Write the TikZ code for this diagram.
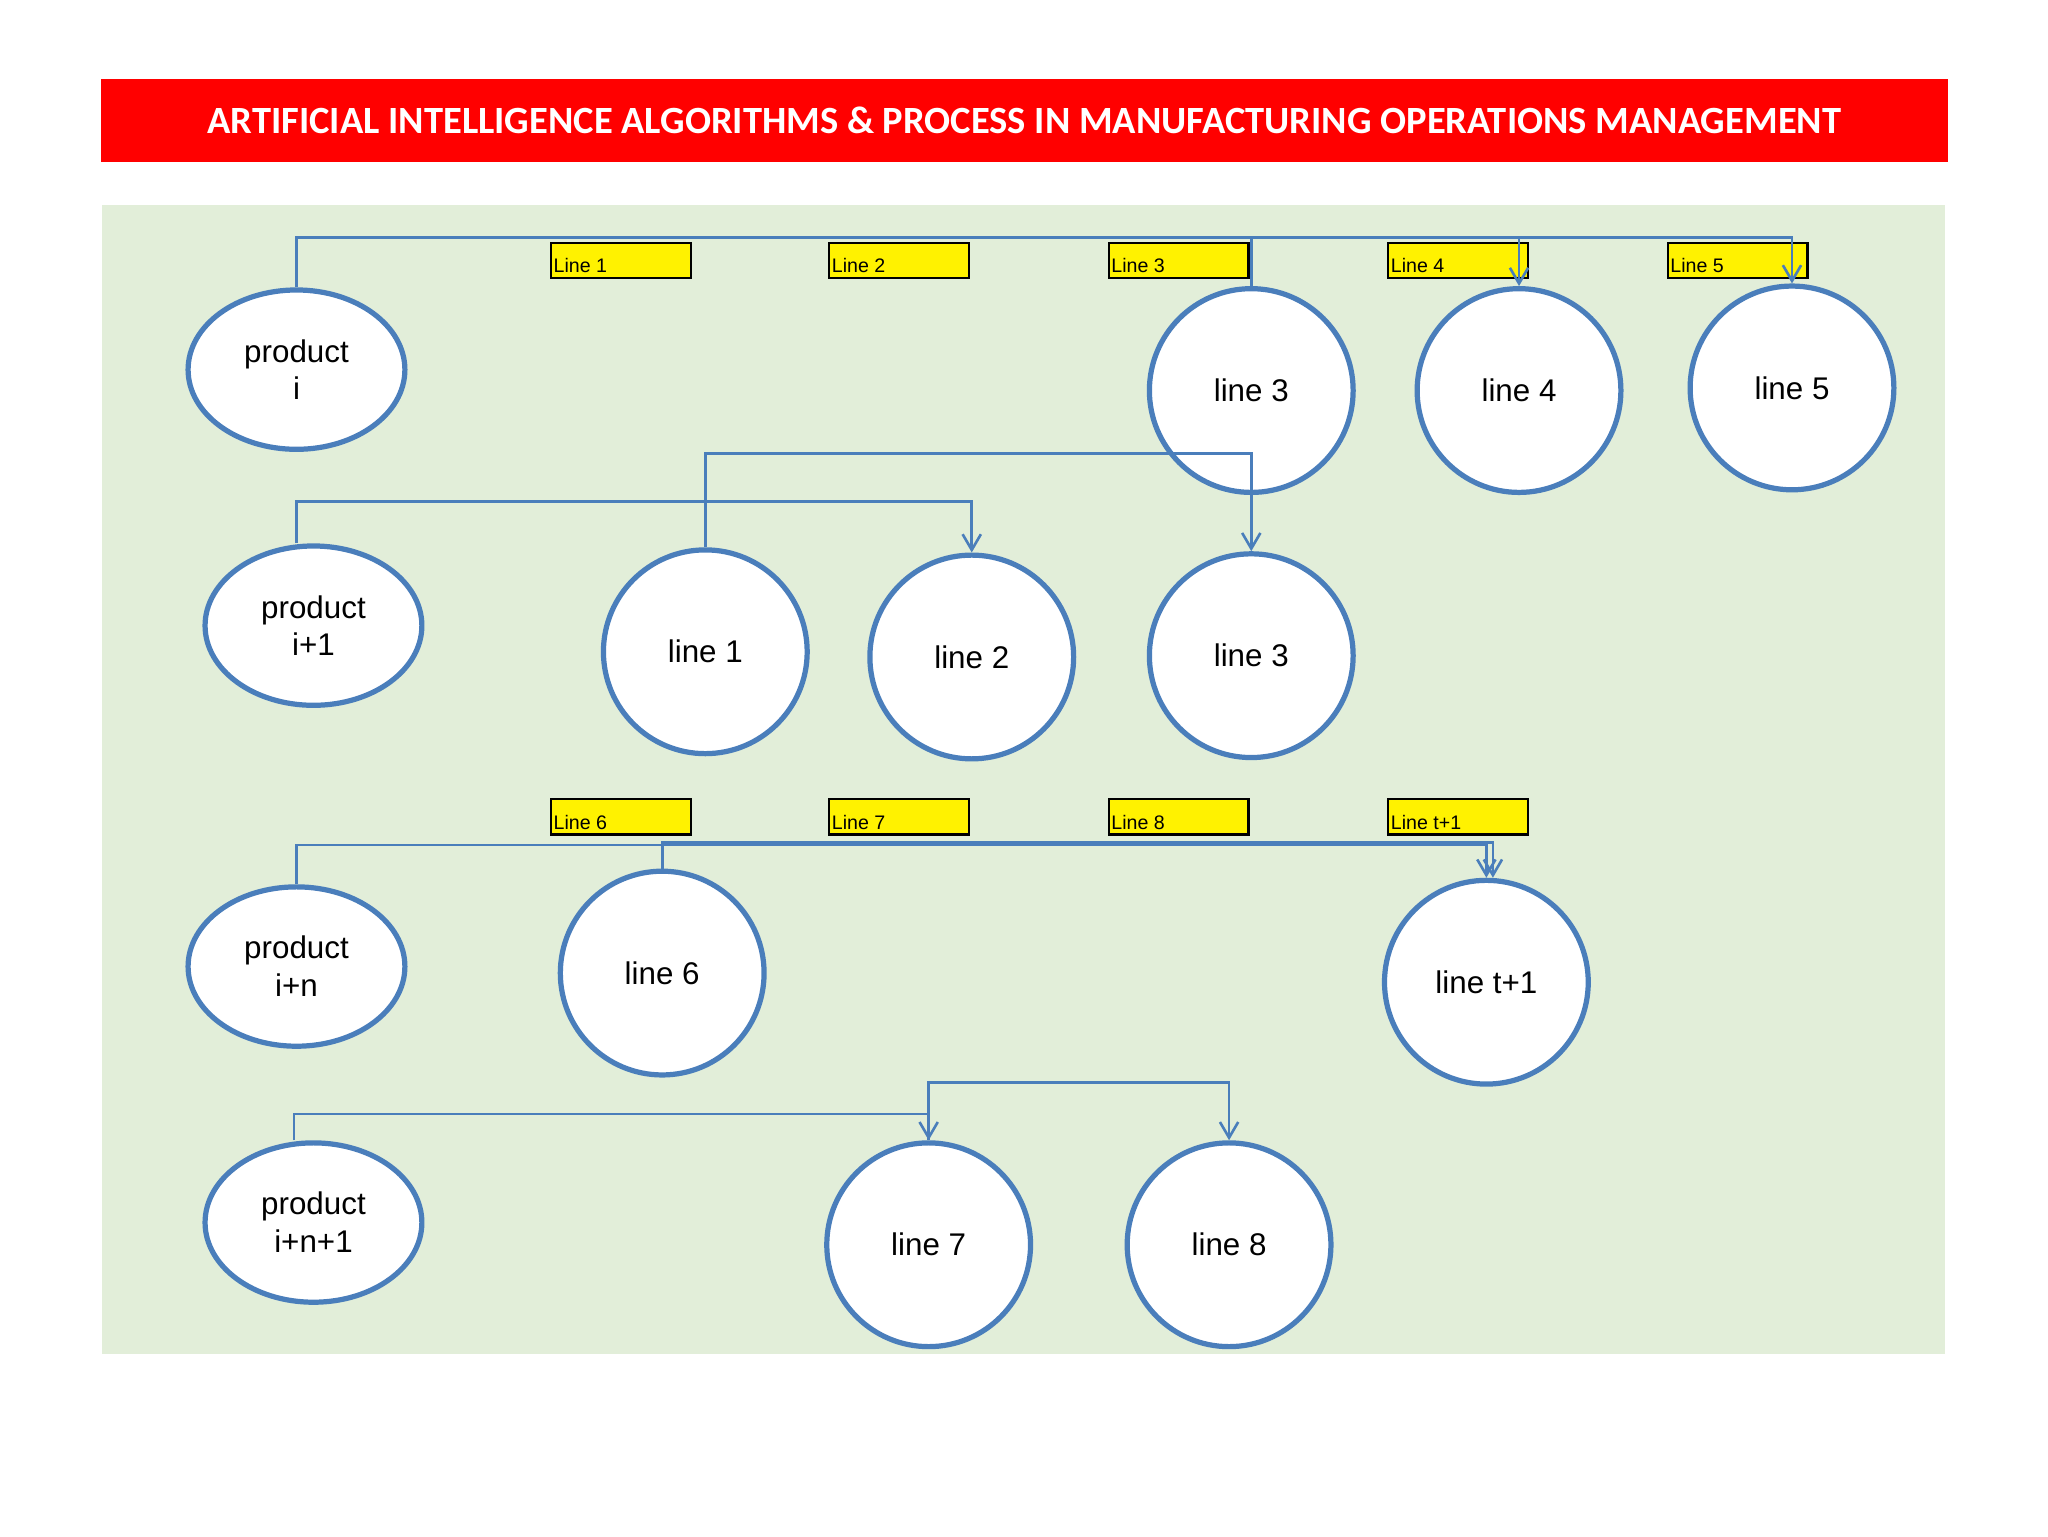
\documentclass[tikz,border=0pt]{standalone}
\usepackage{fontspec}
\setmainfont{Liberation Sans}
\newfontfamily\titlefont{Carlito}
\usetikzlibrary{arrows.meta,shapes.geometric}
\definecolor{edge}{HTML}{4A7EBB}
\definecolor{bgg}{HTML}{E2EED9}
\tikzset{
  x=1pt,y=-1pt,
  prod/.style={ellipse,draw=edge,line width=4pt,fill=white,minimum width=166pt,minimum height=122pt,align=center,font=\fontsize{24}{29}\selectfont,inner sep=0pt},
  ln/.style={circle,draw=edge,line width=4pt,fill=white,minimum size=156pt,font=\fontsize{24}{29}\selectfont,inner sep=0pt},
  tag/.style={draw=black,line width=1.8pt,fill=yellow,minimum width=107pt,minimum height=27pt,inner sep=1pt,anchor=north west,font=\fontsize{15}{15}\selectfont,text depth=0pt},
  conn/.style={draw=edge,line width=2pt},
  arr/.style={conn,-{Straight Barb[length=12pt,width=14pt,line width=2pt]}}
}
\begin{document}
\begin{tikzpicture}
\useasboundingbox (0,0) rectangle (1568,1176);
\fill[white] (0,0) rectangle (1568,1176);
\node[fill=red,minimum width=1414pt,minimum height=64pt,anchor=north west,text=white,font=\titlefont\bfseries\fontsize{29.5}{32}\selectfont] (title) at (77,60) {ARTIFICIAL INTELLIGENCE ALGORITHMS \& PROCESS IN MANUFACTURING OPERATIONS MANAGEMENT};
\fill[bgg] (78,157) rectangle (1489,1037);
\coordinate (bus1) at (0,182);
\coordinate (bus2) at (0,347);
\coordinate (bus3) at (0,384);
\coordinate (bus4) at (0,647);
\coordinate (bus5) at (0,645);
\coordinate (bus6) at (0,853);
\coordinate (bus7) at (0,829);
% tags
\foreach \x/\t/\n in {421/Line 1/ta,634/Line 2/tb,848/Line 3/tc,1062/Line 4/td,1276/Line 5/te}
  \node[tag] (\n) at (\x,185) {\makebox[103pt][l]{\raisebox{-8pt}{\t}}};
\foreach \x/\t/\n in {421/Line 6/tf,634/Line 7/tg,848/Line 8/th,1062/Line t+1/ti}
  \node[tag] (\n) at (\x,611) {\makebox[103pt][l]{\raisebox{-8pt}{\t}}};
% nodes
\node[prod] (pi) at (227,283) {product\\i};
\node[ln] (l3a) at (958,299) {line 3};
\node[ln] (l4) at (1163,299) {line 4};
\node[ln] (l5) at (1372,297) {line 5};
\node[prod] (pi1) at (240,479) {product\\i+1};
\node[ln] (l1) at (540,499) {line 1};
\node[ln] (l2) at (744,503) {line 2};
\node[ln] (l3b) at (958,502) {line 3};
\node[prod] (pin) at (227,740) {product\\i+n};
\node[ln] (l6) at (507,745) {line 6};
\node[ln] (lt) at (1138,752) {line t+1};
\node[prod] (pin1) at (240,936) {product\\i+n+1};
\node[ln] (l7) at (711,953) {line 7};
\node[ln] (l8) at (941,953) {line 8};
% connectors
\draw[arr] (pi.north) -- (pi.north |- bus1) -| (l5.north);
\draw[arr] (pi.north |- bus1) -| (l4.north);
\draw[conn] (l3a.north) -- (l3a.north |- bus1);
\draw[arr] (l1.north) -- (l1.north |- bus2) -| (l3b.north);
\draw[arr] ([xshift=-13pt]pi1.north) -- ([xshift=-13pt]pi1.north |- bus3) -| (l2.north);
\draw[arr] (pin.north) -- (pin.north |- bus4) -| (lt.north);
\draw[arr] (l6.north) -- (l6.north |- bus5) -| ([xshift=5pt]lt.north);
\draw[arr] ([xshift=-15pt]pin1.north) -- ([xshift=-15pt]pin1.north |- bus6) -| (l7.north);
\draw[arr] (l7.north) -- (l7.north |- bus7) -| (l8.north);
\end{tikzpicture}
\end{document}
